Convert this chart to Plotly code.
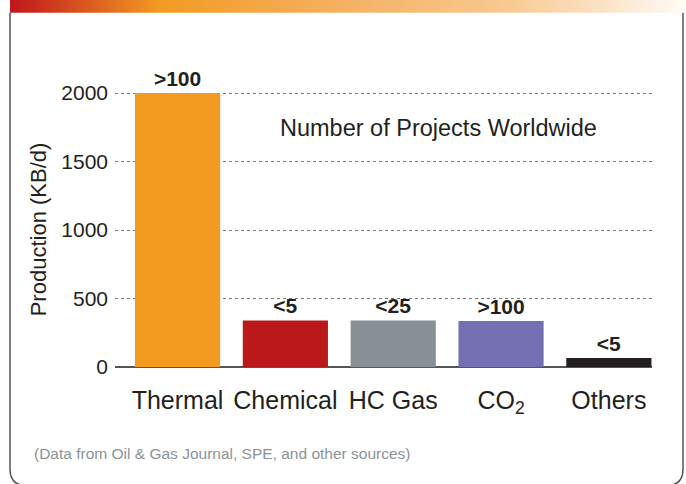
import plotly.graph_objects as go

# data
categories = ['Thermal', 'Chemical', 'HC Gas', 'CO<sub>2</sub>', 'Others']
production = [2000, 340, 340, 335, 65]
projects = ['>100', '<5', '<25', '>100', '<5']
colors = ['#F29A22', '#BA181B', '#869196', '#7570B3', '#231F20']

W, H = 686, 484
L, R, T, B = 115, 652, 93, 367   # plot area in px
font = "Liberation Sans"
dark = '#231F20'


def px(x):
    return (x - L) / (R - L)


def py(y):
    return (B - y) / (B - T)


fig = go.Figure()
fig.add_trace(go.Bar(x=categories, y=production, marker=dict(color=colors, line=dict(width=0)),
                     width=0.79, text=projects, textposition='outside', cliponaxis=False,
                     textfont=dict(family=font, size=21, color=dark, weight='bold'),
                     hoverinfo='skip'))

shapes = []
# gradient band at top
stops = [(10, (192, 22, 28)), (160, (243, 154, 34)), (350, (245, 178, 100)),
         (500, (249, 200, 142)), (600, (251, 225, 195)), (686, (255, 252, 248))]


def grad(x):
    for (x0, c0), (x1, c1) in zip(stops[:-1], stops[1:]):
        if x0 <= x <= x1:
            t = (x - x0) / (x1 - x0)
            return 'rgb(%d,%d,%d)' % tuple(round(a + (b - a) * t) for a, b in zip(c0, c1))
    return 'rgb(255,255,255)'


step = 4
for x in range(10, 686, step):
    shapes.append(dict(type='rect', xref='paper', yref='paper', x0=px(x), x1=px(x + step + 0.5),
                       y0=py(14), y1=py(0), fillcolor=grad(x + step / 2), line=dict(width=0), layer='below'))

# rounded frame (open at top)
r = 16
bx0, bx1, by0, by1 = 10, 683, 14, 485
path = ('M %f,%f L %f,%f Q %f,%f %f,%f L %f,%f Q %f,%f %f,%f L %f,%f' % (
    px(bx0), py(by0), px(bx0), py(by1 - r), px(bx0), py(by1), px(bx0 + r), py(by1),
    px(bx1 - r), py(by1), px(bx1), py(by1), px(bx1), py(by1 - r), px(bx1), py(by0)))
shapes.append(dict(type='path', xref='paper', yref='paper', path=path,
                   line=dict(color='#555555', width=1.5)))

fig.update_layout(
    width=W, height=H, autosize=False,
    margin=dict(l=L, r=W - R, t=T - 1, b=H - B, pad=0),
    plot_bgcolor='white', paper_bgcolor='white',
    font=dict(family=font, color=dark),
    showlegend=False, bargap=0.21,
    shapes=shapes,
    xaxis=dict(range=[-0.58, 4.4], showgrid=False, showline=False, zeroline=False,
               tickfont=dict(size=25, color=dark), ticks='', ticklabelstandoff=16),
    yaxis=dict(range=[0, 2008], tickvals=[0, 500, 1000, 1500, 2000], showgrid=True,
               gridcolor='#777777', griddash='dot', gridwidth=1,
               zeroline=True, zerolinecolor='#555555', zerolinewidth=2,
               showline=False, ticks='', tickfont=dict(size=21, color=dark), ticklabelstandoff=6,
               title=dict(text='Production (KB/d)', font=dict(size=22, color=dark), standoff=8)),
    annotations=[
        dict(text='Number of Projects Worldwide', xref='paper', yref='paper', x=px(438), y=py(129),
             xanchor='center', yanchor='middle', showarrow=False, font=dict(size=23.5, color=dark)),
        dict(text='(Data from Oil & Gas Journal, SPE, and other sources)', xref='paper', yref='paper',
             x=px(32), y=py(453), xanchor='left', yanchor='middle', showarrow=False,
             font=dict(size=15.5, color='#8A9399')),
    ],
)

fig.write_html("out.html", config={'displayModeBar': False},
               post_script="document.body.style.margin='0';")
